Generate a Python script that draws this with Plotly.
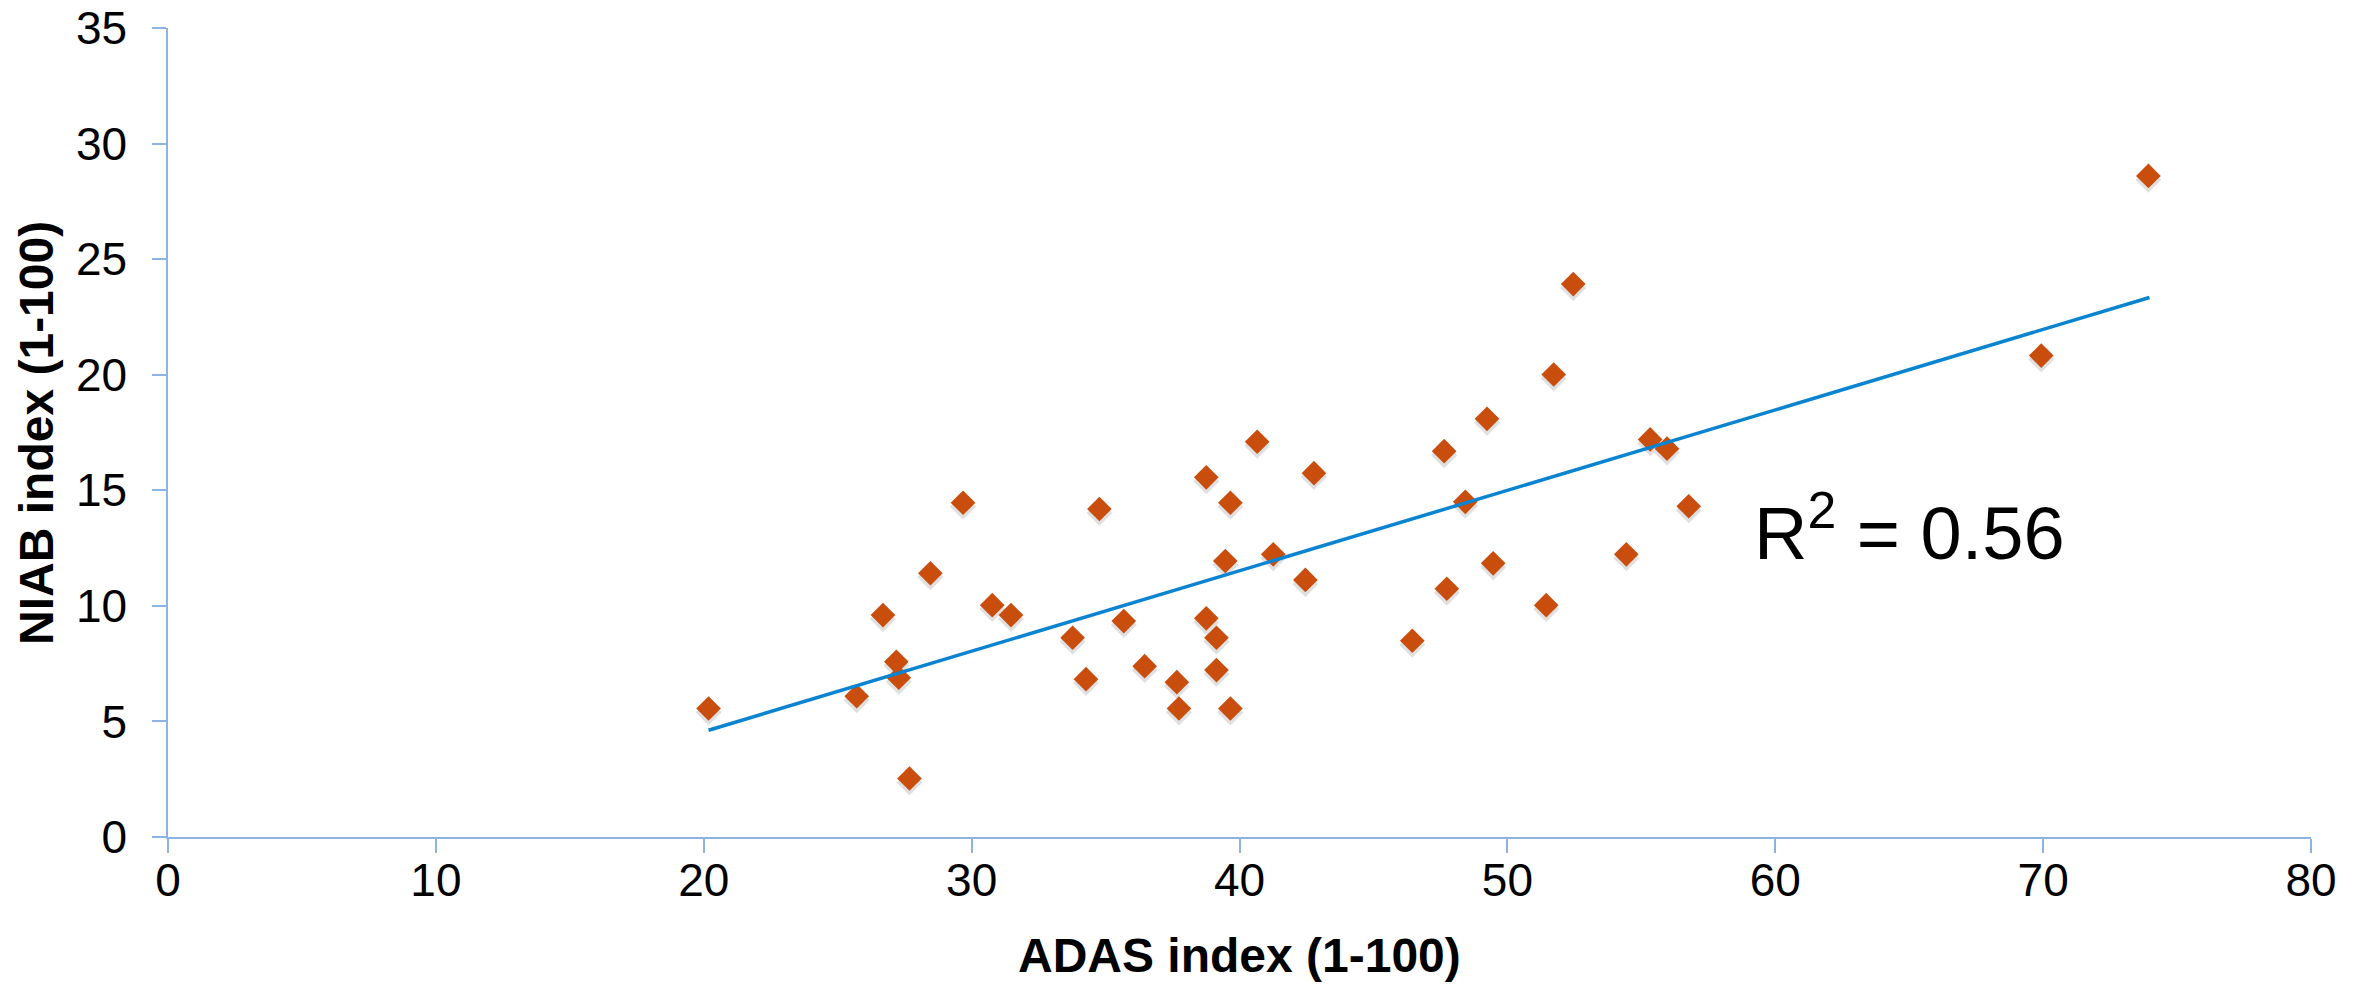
import plotly.graph_objects as go

# ADAS index (x) vs NIAB index (y)
adas = [20.18, 25.71, 26.69, 27.19, 27.28, 27.68, 28.46, 29.68, 30.77, 31.47,
        33.77, 34.27, 34.77, 35.68, 36.46, 37.66, 37.74, 38.76, 38.76, 39.14,
        39.14, 39.66, 39.47, 39.66, 40.66, 41.26, 42.78, 42.46, 46.45, 47.64,
        47.74, 48.43, 49.24, 49.47, 51.45, 51.73, 52.46, 54.44, 55.33, 55.96,
        56.77, 69.93, 73.93]
niab = [5.56, 6.09, 9.60, 7.58, 6.89, 2.53, 11.41, 14.46, 10.03, 9.60,
        8.62, 6.83, 14.19, 9.34, 7.39, 6.70, 5.56, 15.56, 9.46, 8.62,
        7.22, 14.46, 11.94, 5.56, 17.10, 12.23, 15.74, 11.12, 8.49, 16.69,
        10.74, 14.50, 18.09, 11.84, 10.03, 20.01, 23.92, 12.23, 17.20, 16.80,
        14.31, 20.83, 28.60]

# linear trendline end points
trend_x = [20.18, 73.97]
trend_y = [4.62, 23.34]

x_ticks = [0, 10, 20, 30, 40, 50, 60, 70, 80]
y_ticks = [0, 5, 10, 15, 20, 25, 30, 35]

r2_label = "R<sup>2</sup> = 0.56"
x_title = "ADAS index (1-100)"
y_title = "NIAB index (1-100)"

FONT = "Liberation Sans, Arial, sans-serif"
AXIS_COLOR = "#8DB3E2"
Y_RANGE = [0, 35]
SHADOW_SHIFT = 0.17  # drop-shadow offset of the markers, in y units (~4 px)

fig = go.Figure()
# soft drop shadow under the diamonds: same data on a hidden overlaid y axis
# whose range is shifted slightly, so they sit a few px lower
fig.add_trace(go.Scatter(
    x=adas, y=niab, mode="markers", yaxis="y2",
    marker=dict(symbol="diamond", size=20, color="rgba(60,60,60,0.16)",
                line=dict(width=0)),
    hoverinfo="skip", showlegend=False,
))
fig.add_trace(go.Scatter(
    x=adas, y=niab, mode="markers", yaxis="y3",
    marker=dict(symbol="diamond", size=19, color="#C94E0E",
                line=dict(width=0)),
    showlegend=False,
))
fig.add_trace(go.Scatter(
    x=trend_x, y=trend_y, mode="lines", yaxis="y3",
    line=dict(color="#0A84D0", width=3.5),
    hoverinfo="skip", showlegend=False,
))

fig.add_annotation(
    x=59.14, y=13.35, xref="x", yref="y", text=r2_label, showarrow=False,
    xanchor="left", yanchor="middle",
    font=dict(family=FONT, size=74, color="#000000"),
)
fig.add_annotation(
    x=0.5, y=-0.146, xref="paper", yref="paper", text=f"<b>{x_title}</b>",
    showarrow=False, xanchor="center", yanchor="middle",
    font=dict(family=FONT, size=48, color="#000000"),
)
fig.add_annotation(
    x=-0.0614, y=0.5, xref="paper", yref="paper", text=f"<b>{y_title}</b>",
    showarrow=False, xanchor="center", yanchor="middle", textangle=-90,
    font=dict(family=FONT, size=48, color="#000000"),
)

fig.update_layout(
    width=2358, height=976,
    margin=dict(l=160, r=55, t=20, b=147, autoexpand=False),
    plot_bgcolor="#FFFFFF", paper_bgcolor="#FFFFFF",
    font=dict(family=FONT),
    xaxis=dict(
        range=[0, 80], tickvals=x_ticks, ticktext=[str(v) for v in x_ticks],
        showgrid=False, zeroline=False, showline=True, linecolor=AXIS_COLOR,
        linewidth=1.5, ticks="outside", ticklen=14, tickwidth=1.5,
        tickcolor=AXIS_COLOR,
        tickfont=dict(family=FONT, size=46, color="#000000"),
        ticklabelstandoff=-12, ticklabeloverflow="allow", automargin=False,
    ),
    yaxis=dict(
        range=Y_RANGE, tickvals=y_ticks, ticktext=[str(v) for v in y_ticks],
        showgrid=False, zeroline=False, showline=True, linecolor=AXIS_COLOR,
        linewidth=1.5, ticks="outside", ticklen=14, tickwidth=1.5,
        tickcolor=AXIS_COLOR,
        tickfont=dict(family=FONT, size=46, color="#000000"),
        ticklabelstandoff=16, ticklabeloverflow="allow", automargin=False,
    ),
    yaxis2=dict(
        overlaying="y", side="left",
        range=[Y_RANGE[0] + SHADOW_SHIFT, Y_RANGE[1] + SHADOW_SHIFT],
        visible=False, showgrid=False, zeroline=False, automargin=False,
    ),
    yaxis3=dict(
        overlaying="y", side="left", range=Y_RANGE,
        visible=False, showgrid=False, zeroline=False, automargin=False,
    ),
)
fig.write_html("out.html")
